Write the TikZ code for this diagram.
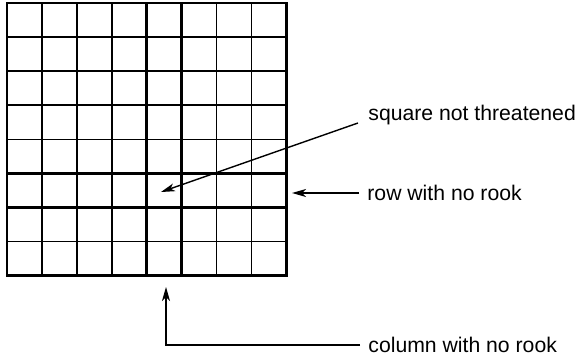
\documentclass[tikz,border=0pt]{standalone}
\usepackage{fontspec}
\setmainfont{Liberation Sans}
\usetikzlibrary{arrows.meta,positioning,calc}
\tikzset{
  thinline/.style={line width=0.8pt,color=black},
  boldline/.style={line width=1.8pt,color=black},
  frameline/.style={line width=1.4pt,color=black},
  notelabel/.style={anchor=west,inner sep=2pt,font=\fontsize{10.6}{12}\selectfont},
  arr/.style={-{Stealth[length=7pt,width=4pt,inset=2pt]},line width=0.7pt,color=black}
}

\begin{document}
\begin{tikzpicture}[x=0.5pt,y=-0.5pt]
  \useasboundingbox (0,0) rectangle (588,357);
  \def\cw{34.9}\def\ch{34.1}
  % the 8x8 board
  \foreach \i in {1,...,7} {
    \draw[thinline] (7+\i*\cw,3) -- ++(0,8*\ch);
    \draw[thinline] (7,3+\i*\ch) -- ++(8*\cw,0);
  }
  % column and row without a rook
  \draw[boldline] (7+4*\cw,3) -- ++(0,8*\ch);
  \draw[boldline] (7+5*\cw,3) -- ++(0,8*\ch);
  \draw[boldline] (7,3+5*\ch) -- ++(8*\cw,0);
  \draw[boldline] (7,3+6*\ch) -- ++(8*\cw,0);
  \draw[frameline] (7,3) rectangle ++(8*\cw,8*\ch);
  % arrow targets
  \coordinate (sqtip) at (161,192);
  \coordinate (rowtip) at (292,193);
  \coordinate (coltip) at (166,287);
  % labels
  \node[notelabel] (sq) at (364,115) {square not threatened};
  \node[notelabel] (row) at (363,193) {row with no rook};
  \node[notelabel] (col) at (364,345) {column with no rook};
  \draw[arr] ([shift={(-6,8)}]sq.west) -- (sqtip);
  \draw[arr] ([xshift=-2pt]row.west) -- (rowtip);
  \draw[arr] ([xshift=-2pt]col.west) -| (coltip);
\end{tikzpicture}
\end{document}
